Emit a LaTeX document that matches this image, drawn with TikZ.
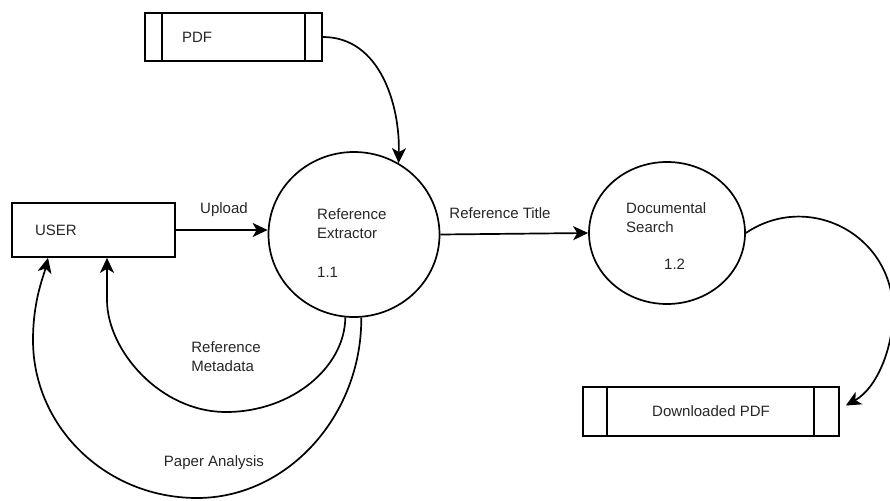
\documentclass[tikz,border=0pt]{standalone}
\usepackage{fontspec}
\setmainfont{Liberation Sans}
\usetikzlibrary{arrows.meta,shapes.geometric}

\begin{document}
\begin{tikzpicture}
            [x=1pt, y=-1pt, line width=1.7pt,
            every node/.style={font=\fontsize{15}{19}\selectfont, text=black!85},
            procnode/.style={ellipse, draw=black, line width=1.7pt, inner sep=0pt},
            usernode/.style={rectangle, draw=black, line width=1.7pt, minimum width=163pt, minimum height=54pt, text width=117pt, align=left, inner xsep=0pt},
            storenode/.style={rectangle, draw=black, line width=1.7pt, inner xsep=0pt},
            flow/.style={-{Stealth[length=15pt,width=14pt,inset=4pt]}}]

            \useasboundingbox (0,0) rectangle (890,500);

            % external entity and data stores
            \node[usernode] (user) at (93.5,230) {USER};
            \node[storenode, minimum width=177pt, minimum height=48pt, text width=103pt, align=left] (pdf) at (233.5,37) {PDF};
            \node[storenode, minimum width=256pt, minimum height=49pt] (dpdf) at (711,411.5) {Downloaded PDF};

            \draw ([xshift=18pt]pdf.north west) -- ([xshift=18pt]pdf.south west);
            \draw ([xshift=-18pt]pdf.north east) -- ([xshift=-18pt]pdf.south east);
            \draw ([xshift=25pt]dpdf.north west) -- ([xshift=25pt]dpdf.south west);
            \draw ([xshift=-26pt]dpdf.north east) -- ([xshift=-26pt]dpdf.south east);

            % processes
            \node[procnode, minimum width=171pt, minimum height=165pt] (ext) at (354,234.5) {};
            \node[procnode, minimum width=156pt, minimum height=142pt] (doc) at (667,233) {};

            \node[anchor=west, align=left] (extname) at (313,223.5) {Reference\\Extractor};
            \node[anchor=west] (extnum) at (313,272) {1.1};
            \node[anchor=west, align=left] (docname) at (622,218) {Documental\\Search};
            \node[anchor=west] (docnum) at (660,264) {1.2};

            % flows
            \draw[flow] (pdf.east) .. controls (380,37) and (400,105) .. (ext.58);
            \draw[flow] (user.east) -- (user.east -| ext.west);
            \draw[flow] (ext.east) -- (doc.west);
            \draw[flow] (doc.east) .. controls (808,191) and (893,234) .. (893,312)
                .. controls (893,348) and (877,388) .. ([xshift=6pt,yshift=6pt]dpdf.east);
            \draw[flow] (ext.-96) .. controls (345,367) and (292,412) .. (226,412)
                .. controls (160,412) and (107,350) .. (107,300) -- ([xshift=13.5pt]user.south);
            \draw[flow] (ext.-85) .. controls (362,415) and (288,498) .. (197,498)
                .. controls (106,498) and (33,427) .. (33,340)
                .. controls (33,300) and (44,275) .. ([xshift=-45.5pt]user.south);

            % flow labels
            \node (upload) at (224,210) {Upload};
            \node (reftitle) at (500,213) {Reference Title};
            \node[align=left] (refmeta) at (226,357) {Reference\\Metadata};
            \node (paper) at (214,463) {Paper Analysis};

        \end{tikzpicture}
\end{document}
